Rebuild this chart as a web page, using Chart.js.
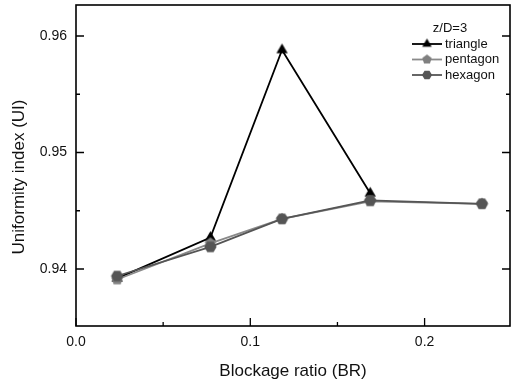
<!DOCTYPE html>
<html>
<head>
<meta charset="utf-8">
<script src="https://cdn.jsdelivr.net/npm/chart.js@4.4.1/dist/chart.umd.min.js"></script>
<style>
  html, body { margin: 0; padding: 0; background: #fff; }
  #wrap { width: 512px; height: 386px; }
</style>
</head>
<body>
<div id="wrap"><canvas id="ui-chart" width="512" height="386"></canvas></div>
<script>
// Blockage ratio on x, uniformity index on y
const blockageRatio = [0.0236, 0.0771, 0.1182, 0.1688, 0.2329];
const triangleUI = [0.9392, 0.9427, 0.9588, 0.9465];
const pentagonUI = [0.9391, 0.9422, 0.9443, 0.9458, 0.9456];
const hexagonUI = [0.9394, 0.9419, 0.9443, 0.9459, 0.9456];

const xTicks = [0, 0.1, 0.2];
const xMinorTicks = [0.05, 0.15];
const yTicks = [0.94, 0.95, 0.96];
const yMinorTicks = [0.945, 0.955];

const FONT = 'Liberation Sans, Arial, sans-serif';

// regular polygon marker as a small canvas, usable as a pointStyle
function polygonMarker(sides, radius, color, rotation) {
  const size = Math.ceil(radius * 2 + 4);
  const c = document.createElement('canvas');
  c.width = size;
  c.height = size;
  const g = c.getContext('2d');
  g.fillStyle = color;
  g.beginPath();
  for (let i = 0; i < sides; i++) {
    const a = rotation + (i * 2 * Math.PI) / sides;
    const px = size / 2 + radius * Math.cos(a);
    const py = size / 2 + radius * Math.sin(a);
    if (i === 0) g.moveTo(px, py); else g.lineTo(px, py);
  }
  g.closePath();
  g.fill();
  return c;
}

const UP = -Math.PI / 2;
const markers = {
  triangle: polygonMarker(3, 6.5, '#000000', UP),
  pentagon: polygonMarker(5, 6, '#808080', UP),
  hexagon: polygonMarker(6, 6.2, '#555555', 0)
};
const legendMarkers = {
  triangle: polygonMarker(3, 5.5, '#000000', UP),
  pentagon: polygonMarker(5, 5, '#808080', UP),
  hexagon: polygonMarker(6, 5, '#555555', 0)
};

function toPoints(ys) {
  return ys.map((y, i) => ({ x: blockageRatio[i], y }));
}

// frame with inward ticks on left, right and bottom
const frameTicks = {
  id: 'frameTicks',
  beforeDatasetsDraw(chart) {
    const { ctx, chartArea: a, scales } = chart;
    ctx.save();
    ctx.strokeStyle = '#000';
    ctx.lineWidth = 1.6;
    ctx.strokeRect(a.left, a.top, a.right - a.left, a.bottom - a.top);
    ctx.lineWidth = 1.3;
    ctx.beginPath();
    const yt = (vals, len) => vals.forEach(v => {
      const py = scales.y.getPixelForValue(v);
      ctx.moveTo(a.left, py); ctx.lineTo(a.left + len, py);
      ctx.moveTo(a.right, py); ctx.lineTo(a.right - len, py);
    });
    const xt = (vals, len) => vals.forEach(v => {
      const px = scales.x.getPixelForValue(v);
      ctx.moveTo(px, a.bottom); ctx.lineTo(px, a.bottom - len);
    });
    yt(yTicks, 8); yt(yMinorTicks, 4);
    xt(xTicks, 8); xt(xMinorTicks, 4);
    ctx.stroke();
    ctx.restore();
  },
  afterDraw(chart) {
    const { ctx } = chart;
    ctx.save();
    ctx.fillStyle = '#111';

    // y axis title
    ctx.font = '17px ' + FONT;
    ctx.textAlign = 'center';
    ctx.textBaseline = 'middle';
    ctx.translate(19, 177);
    ctx.rotate(-Math.PI / 2);
    ctx.fillText('Uniformity index (UI)', 0, 0);
    ctx.setTransform(1, 0, 0, 1, 0, 0);

    // legend
    ctx.font = '13px ' + FONT;
    ctx.fillText('z/D=3', 450, 28);
    const rows = [44, 59.5, 75];
    chart.data.datasets.forEach((ds, i) => {
      const y = rows[i];
      ctx.strokeStyle = ds.borderColor;
      ctx.lineWidth = ds.borderWidth;
      ctx.beginPath();
      ctx.moveTo(412, y);
      ctx.lineTo(442, y);
      ctx.stroke();
      const m = legendMarkers[ds.label];
      ctx.drawImage(m, 427 - m.width / 2, y - m.height / 2);
      ctx.textAlign = 'left';
      ctx.fillText(ds.label, 445, y);
    });
    ctx.restore();
  }
};

new Chart(document.getElementById('ui-chart').getContext('2d'), {
  type: 'scatter',
  data: {
    datasets: [
      {
        label: 'triangle',
        data: toPoints(triangleUI),
        showLine: true,
        borderColor: '#000000',
        borderWidth: 1.8,
        pointStyle: markers.triangle,
        order: 2
      },
      {
        label: 'pentagon',
        data: toPoints(pentagonUI),
        showLine: true,
        borderColor: '#8a8a8a',
        borderWidth: 1.8,
        pointStyle: markers.pentagon,
        order: 1
      },
      {
        label: 'hexagon',
        data: toPoints(hexagonUI),
        showLine: true,
        borderColor: '#555555',
        borderWidth: 1.8,
        pointStyle: markers.hexagon,
        order: 0
      }
    ]
  },
  options: {
    responsive: false,
    animation: false,
    devicePixelRatio: 1,
    layout: { autoPadding: false, padding: { left: 0, right: 2, top: 5, bottom: 0 } },
    plugins: {
      legend: { display: false },
      tooltip: { enabled: false }
    },
    scales: {
      x: {
        type: 'linear',
        min: 0,
        max: 0.249,
        afterBuildTicks: s => { s.ticks = xTicks.map(v => ({ value: v })); },
        afterFit: s => { s.height = 60; s.paddingLeft = 0; s.paddingRight = 0; },
        grid: { display: false, drawTicks: false },
        border: { display: false },
        ticks: {
          color: '#111',
          font: { family: FONT, size: 14 },
          padding: 8,
          maxRotation: 0,
          autoSkip: false,
          callback: v => v.toFixed(1)
        },
        title: {
          display: true,
          text: 'Blockage ratio (BR)',
          color: '#111',
          font: { family: FONT, size: 17 },
          padding: { top: 0, bottom: 4 }
        }
      },
      y: {
        type: 'linear',
        min: 0.93511,
        max: 0.96266,
        afterBuildTicks: s => { s.ticks = yTicks.map(v => ({ value: v })); },
        afterFit: s => { s.width = 76; s.paddingTop = 0; s.paddingBottom = 0; },
        grid: { display: false, drawTicks: false },
        border: { display: false },
        ticks: {
          color: '#111',
          font: { family: FONT, size: 14 },
          padding: 9,
          autoSkip: false,
          callback: v => v.toFixed(2)
        }
      }
    }
  },
  plugins: [frameTicks]
});
</script>
</body>
</html>
